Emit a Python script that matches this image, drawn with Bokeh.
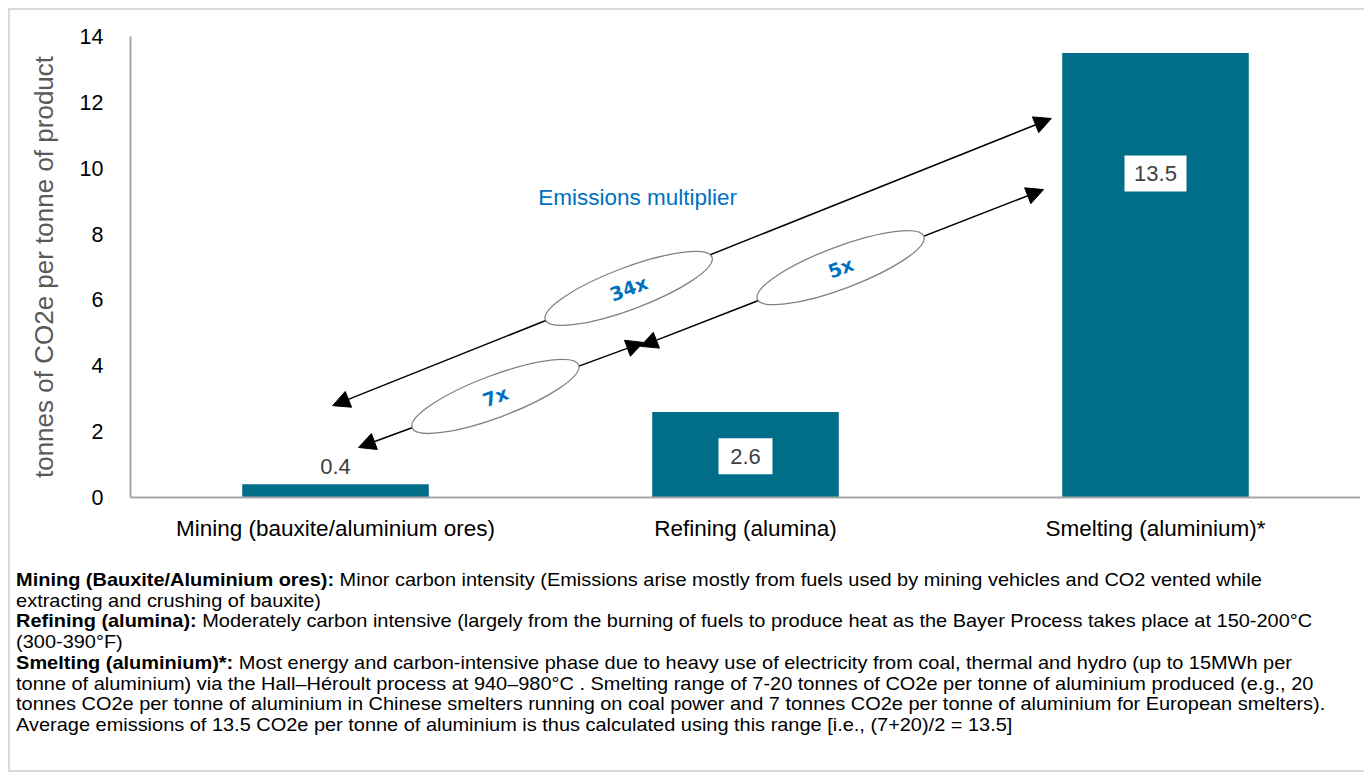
from bokeh.plotting import figure
from bokeh.models import FactorRange, Range1d, FixedTicker, Arrow, NormalHead, Div
from bokeh.layouts import column
from bokeh.embed import file_html
from bokeh.resources import INLINE
from bokeh.core.properties import value

# ---------------- data ----------------
categories = ["Mining (bauxite/aluminium ores)", "Refining (alumina)", "Smelting (aluminium)*"]
emissions = [0.4, 2.6, 13.5]
value_labels = ["0.4", "2.6", "13.5"]
y_ticks = [0, 2, 4, 6, 8, 10, 12, 14]
multipliers = ["34x", "7x", "5x"]
multiplier_title = "Emissions multiplier"
y_label = "tonnes of CO2e per tonne of product"

# ---------------- annotation placement (axis coordinates) ----------------
label_y = [0.94, 1.25, 9.84]
label_box_w = [0, 54, 62]
mult_x = [1.215, 0.890, 1.732]
mult_y = [6.35, 3.07, 6.98]
arrow_x0 = [0.493, 0.556, 1.244]
arrow_y0 = [2.79, 1.52, 4.59]
arrow_x1 = [2.246, 1.251, 2.227]
arrow_y1 = [11.51, 4.71, 9.35]

FONT = "Liberation Sans"
BAR = "#006E88"
AXIS = "#a6a6a6"
BLUE = "#0070C0"

p = figure(
    x_range=FactorRange(factors=categories, range_padding=0),
    y_range=Range1d(0, 14),
    width=1350, height=545,
    min_border_left=120, min_border_right=0, min_border_top=26, min_border_bottom=58,
    output_backend="svg", toolbar_location=None,
    background_fill_color="white", border_fill_color="white",
)
p.outline_line_color = None
p.xgrid.grid_line_color = None
p.ygrid.grid_line_color = None

p.vbar(x=categories, top=emissions, width=0.455, fill_color=BAR, line_color=None)

# y axis
p.yaxis.ticker = FixedTicker(ticks=y_ticks)
p.yaxis.axis_line_color = AXIS
p.yaxis.axis_line_width = 2
p.yaxis.major_tick_line_color = None
p.yaxis.minor_tick_line_color = None
p.yaxis.major_label_text_font = FONT
p.yaxis.major_label_text_font_size = "21.5px"
p.yaxis.major_label_text_color = "black"
p.yaxis.major_label_standoff = 21
p.yaxis.axis_label = y_label
p.yaxis.axis_label_text_font = FONT
p.yaxis.axis_label_text_font_size = "26px"
p.yaxis.axis_label_text_font_style = "normal"
p.yaxis.axis_label_text_color = "#595959"
p.yaxis.axis_label_standoff = 18

# x axis
p.xaxis.axis_line_color = AXIS
p.xaxis.axis_line_width = 2
p.xaxis.major_tick_line_color = None
p.xaxis.minor_tick_line_color = None
p.xaxis.major_label_text_font = FONT
p.xaxis.major_label_text_font_size = "22.5px"
p.xaxis.major_label_text_color = "black"
p.xaxis.major_label_standoff = 12

# arrows (beneath the ellipses)
for xs, ys, xe, ye in zip(arrow_x0, arrow_y0, arrow_x1, arrow_y1):
    arr = Arrow(
        start=NormalHead(size=17, fill_color="black", line_color="black", line_width=1),
        end=NormalHead(size=17, fill_color="black", line_color="black", line_width=1),
        x_start=xs, y_start=ys, x_end=xe, y_end=ye,
        line_color="black", line_width=1.5, level="underlay",
    )
    p.add_layout(arr)

# ellipses with multipliers
p.ellipse(x=mult_x, y=mult_y, width=178, height=42, width_units="screen", height_units="screen",
          angle=0.36, fill_color="white", line_color="#808080", line_width=1.3)
p.text(x=mult_x, y=mult_y, text=multipliers, angle=0.36, text_align="center", text_baseline="middle",
       text_font=value("DejaVu Sans"), text_font_style="bold", text_font_size="19px", text_color=BLUE)

p.text(x=[1.237], y=[9.11], text=[multiplier_title], text_align="center", text_baseline="middle",
       text_font=value(FONT), text_font_size="22.5px", text_color=BLUE)

# value labels
boxed = [i for i, w in enumerate(label_box_w) if w > 0]
p.rect(x=[categories[i] for i in boxed], y=[label_y[i] for i in boxed],
       width=[label_box_w[i] for i in boxed], height=36, width_units="screen", height_units="screen",
       fill_color="white", line_color=None)
p.text(x=categories, y=label_y, text=value_labels, text_align="center", text_baseline="middle",
       text_font=value(FONT), text_font_size="22px", text_color="#404040")

notes_html = (
    "<div style=\"font-family:'Liberation Sans',Arial,sans-serif;font-size:18.5px;line-height:20.7px;"
    "color:#000;white-space:nowrap;padding:10px 0 0 1px;transform:scaleX(1.078);transform-origin:0 0;\">"
    "<b>Mining (Bauxite/Aluminium ores):</b> Minor carbon intensity (Emissions arise mostly from fuels used by mining vehicles and CO2 vented while<br>"
    "extracting and crushing of bauxite)<br>"
    "<b>Refining (alumina):</b> Moderately carbon intensive (largely from the burning of fuels to produce heat as the Bayer Process takes place at 150-200°C<br>"
    "(300-390°F)<br>"
    "<b>Smelting (aluminium)*:</b> Most energy and carbon-intensive phase due to heavy use of electricity from coal, thermal and hydro (up to 15MWh per<br>"
    "tonne of aluminium) via the Hall–Héroult process at 940–980°C . Smelting range of 7-20 tonnes of CO2e per tonne of aluminium produced (e.g., 20<br>"
    "tonnes CO2e per tonne of aluminium in Chinese smelters running on coal power and 7 tonnes CO2e per tonne of aluminium for European smelters).<br>"
    "Average emissions of 13.5 CO2e per tonne of aluminium is thus calculated using this range [i.e., (7+20)/2 = 13.5]"
    "</div>"
)
notes = Div(text=notes_html, width=1350, height=205)

layout = column(p, notes, margin=(8, 0, 0, 8),
                styles={"border": "2px solid #d9d9d9", "background-color": "white"})

open("out.html", "w").write(file_html(layout, INLINE))
